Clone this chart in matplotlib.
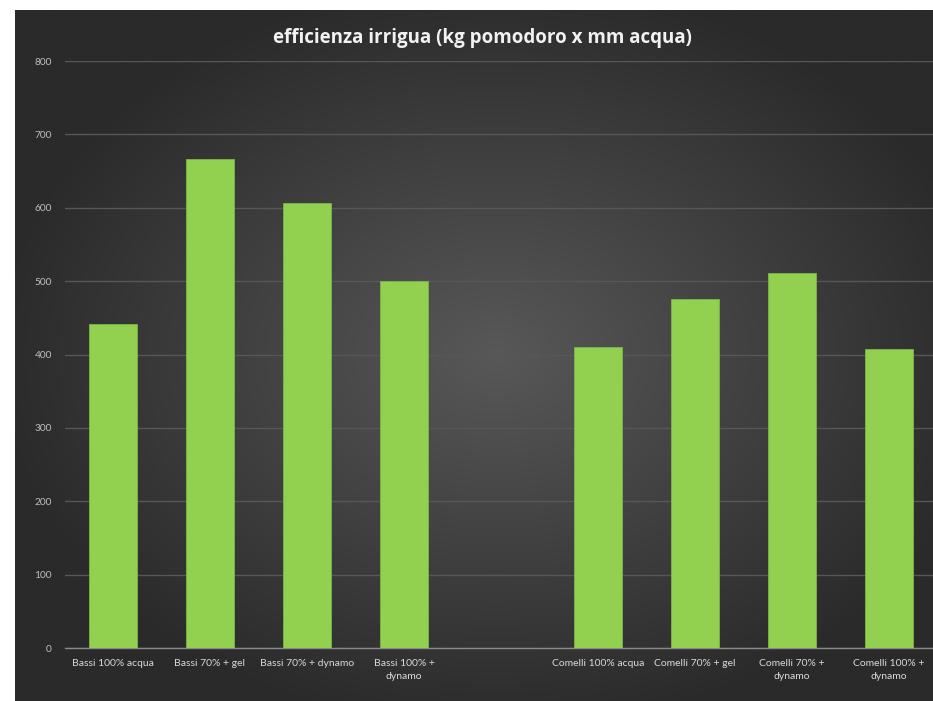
import numpy as np
import matplotlib
matplotlib.use("Agg")
import matplotlib.pyplot as plt

# dati
etichette_bassi = ["Bassi 100% acqua", "Bassi 70% + gel", "Bassi 70% + dynamo", "Bassi 100% +\ndynamo"]
valori_bassi = [442, 667, 607, 500]
etichette_comelli = ["Comelli 100% acqua", "Comelli 70% + gel", "Comelli 70% +\ndynamo", "Comelli 100% +\ndynamo"]
valori_comelli = [410, 476, 511, 408]
y_ticks = [0, 100, 200, 300, 400, 500, 600, 700, 800]
titolo = "efficienza irrigua (kg pomodoro x mm acqua)"

W, H = 933, 701
fig = plt.figure(figsize=(W / 100, H / 100), dpi=100)
fig.patch.set_facecolor("white")

# sfondo con gradiente radiale (stile Excel scuro)
bg = fig.add_axes([15 / W, 0, 1 - 15 / W, 1 - 10 / H])
bg.set_axis_off()
gx, gy = np.meshgrid(np.linspace(-1, 1, 400), np.linspace(-1, 1, 300))
r = np.sqrt(((gx - 0.05) / 1.1) ** 2 + (gy / 1.1) ** 2)
r = np.clip(r, 0, 1)
c_in = np.array([0x58, 0x58, 0x58]) / 255
c_out = np.array([0x2a, 0x2a, 0x2a]) / 255
img = c_in[None, None, :] * (1 - r[..., None]) + c_out[None, None, :] * r[..., None]
bg.imshow(img, aspect="auto", extent=[0, 1, 0, 1], interpolation="bicubic")
bg.set_xlim(0, 1)
bg.set_ylim(0, 1)

# area del grafico
x0 = 64.5
slot = 97.0
ax = fig.add_axes([x0 / W, (H - 648) / H, 9 * slot / W, (648 - 61) / H])
ax.patch.set_alpha(0)

pos_bassi = np.arange(len(valori_bassi))
pos_comelli = np.arange(len(valori_comelli)) + len(valori_bassi) + 1
posizioni = np.concatenate([pos_bassi, pos_comelli])
valori = valori_bassi + valori_comelli
etichette = etichette_bassi + etichette_comelli

ax.bar(posizioni, valori, width=0.5, color="#92D050", edgecolor="#7fb547",
       linewidth=0.6, zorder=3)

ax.set_xlim(-0.5, 8.5)
ax.set_ylim(0, 800)
ax.set_yticks(y_ticks)
ax.yaxis.grid(True, color="#575757", linewidth=1.0, zorder=0)
ax.set_axisbelow(True)

for s in ["top", "right", "left"]:
    ax.spines[s].set_visible(False)
ax.spines["bottom"].set_color("#8a8a8a")
ax.spines["bottom"].set_linewidth(1.0)

ax.set_xticks(posizioni)
ax.set_xticklabels(etichette, fontsize=7.5, color="#d9d9d9", family="Lato",
                   linespacing=1.55)
ax.tick_params(axis="x", length=0, pad=8)
ax.tick_params(axis="y", length=0, pad=9, labelsize=7.3, labelcolor="#bfbfbf")
for t in ax.get_yticklabels():
    t.set_family("Lato")

fig.text(482 / W, 1 - 38 / H, titolo, ha="center", va="center",
         fontsize=13.5, fontweight="bold", color="#f2f2f2", family="Open Sans")

fig.savefig("out.png", dpi=100)
